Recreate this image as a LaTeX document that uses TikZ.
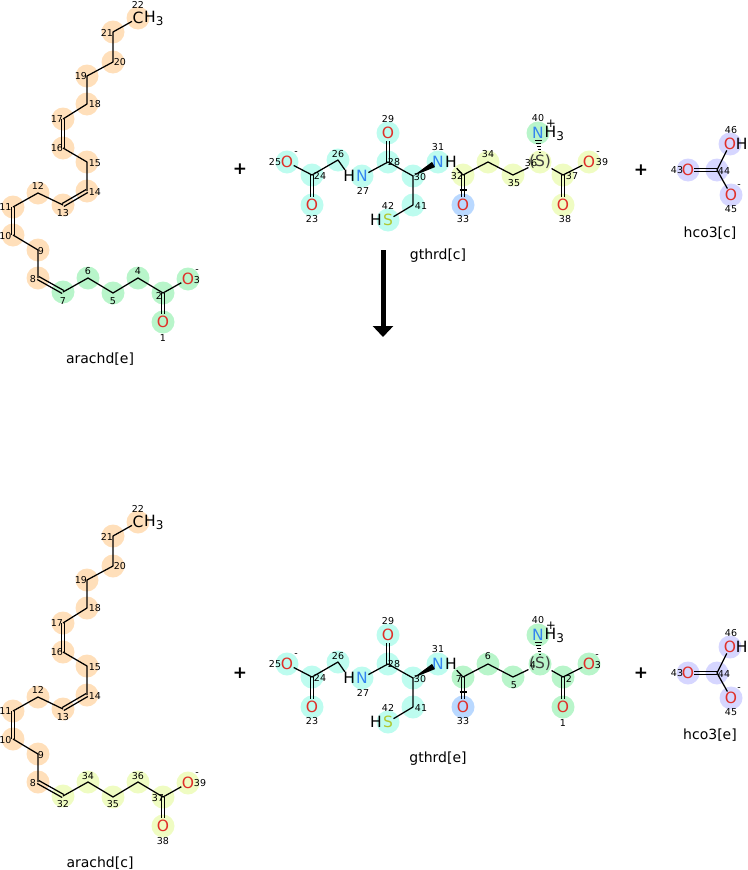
\documentclass[tikz,border=0pt]{standalone}
\usepackage{fontspec}
\setmainfont{DejaVu Sans}
\usetikzlibrary{calc,arrows.meta,backgrounds}

\definecolor{peach}{HTML}{FFDFBA}
\definecolor{mint}{HTML}{B8F5CA}
\definecolor{aqua}{HTML}{BDFCEF}
\definecolor{lemon}{HTML}{EFFCC2}
\definecolor{sky}{HTML}{B9D8FF}
\definecolor{lilac}{HTML}{D6D6FF}
\definecolor{oxred}{HTML}{E0302A}
\definecolor{nblue}{HTML}{3485F0}
\definecolor{sgreen}{HTML}{B0C830}

\newcommand{\dbond}[3][]{%
  \draw[bond,#1] ($(#2)!1.7pt!90:(#3)$) -- ($(#3)!1.7pt!-90:(#2)$);
  \draw[bond,#1] ($(#2)!1.7pt!-90:(#3)$) -- ($(#3)!1.7pt!90:(#2)$);}
\newcommand{\hthree}{H\raisebox{-3pt}{\fontsize{12}{12}\selectfont 3}}

\tikzset{
  bond/.style={line width=1.25pt, line join=round},
  atom/.style={inner sep=0.4pt, font=\fontsize{15.5}{15.5}\selectfont},
  oxy/.style={atom, text=oxred},
  nit/.style={atom, text=nblue},
  sul/.style={atom, text=sgreen},
  idx/.style={inner sep=0pt, font=\fontsize{9.5}{9.5}\selectfont},
  molname/.style={font=\fontsize{14}{14}\selectfont},
  plus/.style={font=\fontsize{17}{17}\selectfont\bfseries}
}

\begin{document}
\begin{tikzpicture}[x=1pt,y=-1pt]
\useasboundingbox (0,0) rectangle (747,870);

% arachd[e]
\node[atom] (ae22) at (138,18) {C};
\node[atom, anchor=west, inner sep=0pt] (ae22h) at (ae22.east) {\hthree};
\coordinate (ae21) at (113,32);
\coordinate (ae20) at (113,62);
\coordinate (ae19) at (87,76);
\coordinate (ae18) at (87,104);
\coordinate (ae17) at (63,119);
\coordinate (ae16) at (63,148);
\coordinate (ae15) at (87,162);
\coordinate (ae14) at (87,191);
\coordinate (ae13) at (63,205);
\coordinate (ae12) at (38,193);
\coordinate (ae11) at (13,207);
\coordinate (ae10) at (13,235);
\coordinate (ae9) at (38,250);
\coordinate (ae8) at (38,278);
\coordinate (ae7) at (63,292);
\coordinate (ae6) at (88,278);
\coordinate (ae5) at (113,293);
\coordinate (ae4) at (138,278);
\coordinate (ae2) at (163,293);
\node[oxy] (ae3) at (188,279) {O};
\node[oxy] (ae1) at (163,322) {O};
\draw[bond] (ae22) -- (ae21) -- (ae20) -- (ae19) -- (ae18) -- (ae17);
\dbond{ae17}{ae16}
\draw[bond] (ae16) -- (ae15) -- (ae14);
\dbond{ae14}{ae13}
\draw[bond] (ae13) -- (ae12) -- (ae11);
\dbond{ae11}{ae10}
\draw[bond] (ae10) -- (ae9) -- (ae8);
\dbond{ae8}{ae7}
\draw[bond] (ae7) -- (ae6) -- (ae5) -- (ae4) -- (ae2) -- (ae3);
\dbond[shorten >=8pt]{ae2}{ae1}
\node[idx] (lae22) at (138,5) {22};
\node[idx] (lae21) at (107,33) {21};
\node[idx] (lae20) at (120,62) {20};
\node[idx] (lae19) at (81,76) {19};
\node[idx] (lae18) at (95,104) {18};
\node[idx] (lae17) at (57,119) {17};
\node[idx] (lae16) at (57,148) {16};
\node[idx] (lae15) at (95,163) {15};
\node[idx] (lae14) at (95,192) {14};
\node[idx] (lae13) at (63,213) {13};
\node[idx] (lae12) at (38,186) {12};
\node[idx] (lae11) at (5.5,207) {11};
\node[idx] (lae10) at (5.5,236) {10};
\node[idx] (lae9) at (41,251) {9};
\node[idx] (lae8) at (33,279) {8};
\node[idx] (lae7) at (63,301) {7};
\node[idx] (lae6) at (88,271) {6};
\node[idx] (lae5) at (113,301) {5};
\node[idx] (lae4) at (138,271) {4};
\node[idx] (lae2) at (159,296) {2};
\node[idx] (lae3) at (197,280) {3};
\node[idx] (qae3) at (197,271) {-};
\node[idx] (lae1) at (163,338) {1};
\node[molname] (nae) at (100,359) {arachd[e]};

\node[plus] (p1) at (240,169) {+};

% gthrd[c]
\node[oxy] (gc25) at (287,162) {O};
\coordinate (gc24) at (312,175);
\node[oxy] (gc23) at (312,205) {O};
\coordinate (gc26) at (338,160);
\node[nit] (gc27) at (362,176) {N};
\node[atom, anchor=east] (gc27h) at (gc27.west) {H};
\coordinate (gc28) at (388,162);
\node[oxy] (gc29) at (388,133) {O};
\coordinate (gc30) at (413,176);
\node[nit] (gc31) at (438,162) {N};
\node[atom, anchor=west] (gc31h) at (gc31.east) {H};
\coordinate (gc41) at (413,205);
\node[sul] (gc42) at (388,220) {S};
\node[atom, anchor=east] (gc42h) at (gc42.west) {H};
\coordinate (gc32) at (463,175);
\node[oxy] (gc33) at (463,205) {O};
\coordinate (gc34) at (488,162);
\coordinate (gc35) at (513,175);
\node[atom, text=black!75] (gc36) at (540,162) {(S)};
\node[nit] (gc40) at (538,133) {N};
\node[atom, anchor=west, inner sep=0pt] (gc40h) at (gc40.east) {\hthree};
\coordinate (gc37) at (563,175);
\node[oxy] (gc38) at (563,205) {O};
\node[oxy] (gc39) at (589,162) {O};
\draw[bond] (gc25) -- (gc24) -- (gc26) -- (gc27h);
\dbond[shorten >=8pt]{gc24}{gc23}
\draw[bond] (gc27) -- (gc28) -- (gc30) -- (gc41) -- (gc42);
\dbond[shorten >=8pt]{gc28}{gc29}
\coordinate (wc31) at ($(gc30)!0.82!(gc31)$);
\fill (gc30) -- ($(wc31)!3pt!90:(gc30)$) -- ($(wc31)!3pt!-90:(gc30)$) -- cycle;
\draw[bond] (gc31h) -- (gc32) -- (gc34) -- (gc35) -- (gc36);
\draw[bond] (gc36) -- (gc37) -- (gc39);
\dbond[shorten >=8pt]{gc32}{gc33}
\draw[bond] ($(gc32)!0.5!(gc33)$) +(-3.5,0) -- +(3.5,0);
\dbond[shorten >=8pt]{gc37}{gc38}
\foreach \k in {0,...,4}
  \draw[line width=1pt] ($(gc36.north)!{0.1+0.2*\k}!(gc40.south)$) +({-1-0.6*\k},0) -- +({1+0.6*\k},0);
\node[idx] (lgc25) at (275,162) {25};
\node[idx] (qgc25) at (296,153) {-};
\node[idx] (lgc24) at (320,176) {24};
\node[idx] (lgc23) at (312,219) {23};
\node[idx] (lgc26) at (338,154) {26};
\node[idx] (lgc27) at (363,191) {27};
\node[idx] (lgc28) at (394,162) {28};
\node[idx] (lgc29) at (388,119) {29};
\node[idx] (lgc30) at (420,177) {30};
\node[idx] (lgc31) at (438,147) {31};
\node[idx] (lgc41) at (421,206) {41};
\node[idx] (lgc42) at (388,206) {42};
\node[idx] (lgc32) at (457,176) {32};
\node[idx] (lgc33) at (463,219) {33};
\node[idx] (lgc34) at (488,154) {34};
\node[idx] (lgc35) at (514,183) {35};
\node[idx] (lgc36) at (531,163) {36};
\node[idx] (lgc37) at (572,176) {37};
\node[idx] (lgc38) at (565,219) {38};
\node[idx] (lgc39) at (602,162) {39};
\node[idx] (qgc39) at (598,153) {-};
\node[idx] (lgc40) at (538,118) {40};
\node[idx, font=\fontsize{12}{12}\selectfont] (qgc40) at (551,124) {+};
\node[molname] (ngc) at (438,256) {gthrd[c]};

\node[plus] (p2) at (641,170) {+};

% hco3[c]
\node[oxy] (hc43) at (688,170) {O};
\coordinate (hc44) at (717,170);
\node[oxy] (hc46) at (730,144) {O};
\node[atom, anchor=west, xshift=-1.5pt] (hc46h) at (hc46.east) {H};
\node[oxy] (hc45) at (731,195) {O};
\dbond[shorten >=6pt]{hc44}{hc43}
\draw[bond] (hc44) -- (hc46);
\draw[bond] (hc44) -- (hc45);
\node[idx] (lhc43) at (677,170) {43};
\node[idx] (lhc44) at (724,171) {44};
\node[idx] (lhc46) at (731,130) {46};
\node[idx] (lhc45) at (731,209) {45};
\node[idx] (qhc45) at (739,186) {-};
\node[molname] (nhc) at (710,233) {hco3[c]};

% reaction arrow
\coordinate (arrtop) at (383,250);
\coordinate (arrbot) at (383,337);
\draw[line width=5pt, -{Triangle[width=20pt,length=11pt]}] (arrtop) -- (arrbot);

% arachd[c]
\begin{scope}[yshift=-504pt]
\node[atom] (ac22) at (138,18) {C};
\node[atom, anchor=west, inner sep=0pt] (ac22h) at (ac22.east) {\hthree};
\coordinate (ac21) at (113,32);
\coordinate (ac20) at (113,62);
\coordinate (ac19) at (87,76);
\coordinate (ac18) at (87,104);
\coordinate (ac17) at (63,119);
\coordinate (ac16) at (63,148);
\coordinate (ac15) at (87,162);
\coordinate (ac14) at (87,191);
\coordinate (ac13) at (63,205);
\coordinate (ac12) at (38,193);
\coordinate (ac11) at (13,207);
\coordinate (ac10) at (13,235);
\coordinate (ac9) at (38,250);
\coordinate (ac8) at (38,278);
\coordinate (ac32) at (63,292);
\coordinate (ac34) at (88,278);
\coordinate (ac35) at (113,293);
\coordinate (ac36) at (138,278);
\coordinate (ac37) at (163,293);
\node[oxy] (ac39) at (188,279) {O};
\node[oxy] (ac38) at (163,322) {O};
\draw[bond] (ac22) -- (ac21) -- (ac20) -- (ac19) -- (ac18) -- (ac17);
\dbond{ac17}{ac16}
\draw[bond] (ac16) -- (ac15) -- (ac14);
\dbond{ac14}{ac13}
\draw[bond] (ac13) -- (ac12) -- (ac11);
\dbond{ac11}{ac10}
\draw[bond] (ac10) -- (ac9) -- (ac8);
\dbond{ac8}{ac32}
\draw[bond] (ac32) -- (ac34) -- (ac35) -- (ac36) -- (ac37) -- (ac39);
\dbond[shorten >=8pt]{ac37}{ac38}
\node[idx] (lac22) at (138,5) {22};
\node[idx] (lac21) at (107,33) {21};
\node[idx] (lac20) at (120,62) {20};
\node[idx] (lac19) at (81,76) {19};
\node[idx] (lac18) at (95,104) {18};
\node[idx] (lac17) at (57,119) {17};
\node[idx] (lac16) at (57,148) {16};
\node[idx] (lac15) at (95,163) {15};
\node[idx] (lac14) at (95,192) {14};
\node[idx] (lac13) at (63,213) {13};
\node[idx] (lac12) at (38,186) {12};
\node[idx] (lac11) at (5.5,207) {11};
\node[idx] (lac10) at (5.5,236) {10};
\node[idx] (lac9) at (41,251) {9};
\node[idx] (lac8) at (33,279) {8};
\node[idx] (lac32) at (63,300) {32};
\node[idx] (lac34) at (88,272) {34};
\node[idx] (lac35) at (113,300) {35};
\node[idx] (lac36) at (138,272) {36};
\node[idx] (lac37) at (158,294) {37};
\node[idx] (lac39) at (200,279) {39};
\node[idx] (qac39) at (197,270) {-};
\node[idx] (lac38) at (163,337) {38};
\node[molname] (nac) at (100,359) {arachd[c]};
\end{scope}

\node[plus] (p3) at (240,673) {+};

% gthrd[e]
\begin{scope}[yshift=-502pt]
\node[oxy] (ge25) at (287,162) {O};
\coordinate (ge24) at (312,175);
\node[oxy] (ge23) at (312,205) {O};
\coordinate (ge26) at (338,160);
\node[nit] (ge27) at (362,176) {N};
\node[atom, anchor=east] (ge27h) at (ge27.west) {H};
\coordinate (ge28) at (388,162);
\node[oxy] (ge29) at (388,133) {O};
\coordinate (ge30) at (413,176);
\node[nit] (ge31) at (438,162) {N};
\node[atom, anchor=west] (ge31h) at (ge31.east) {H};
\coordinate (ge41) at (413,205);
\node[sul] (ge42) at (388,220) {S};
\node[atom, anchor=east] (ge42h) at (ge42.west) {H};
\coordinate (ge7) at (463,175);
\node[oxy] (ge33) at (463,205) {O};
\coordinate (ge6) at (488,162);
\coordinate (ge5) at (513,175);
\node[atom, text=black!75] (ge4) at (540,162) {(S)};
\node[nit] (ge40) at (538,133) {N};
\node[atom, anchor=west, inner sep=0pt] (ge40h) at (ge40.east) {\hthree};
\coordinate (ge2) at (563,175);
\node[oxy] (ge1) at (563,205) {O};
\node[oxy] (ge3) at (589,162) {O};
\draw[bond] (ge25) -- (ge24) -- (ge26) -- (ge27h);
\dbond[shorten >=8pt]{ge24}{ge23}
\draw[bond] (ge27) -- (ge28) -- (ge30) -- (ge41) -- (ge42);
\dbond[shorten >=8pt]{ge28}{ge29}
\coordinate (we31) at ($(ge30)!0.82!(ge31)$);
\fill (ge30) -- ($(we31)!3pt!90:(ge30)$) -- ($(we31)!3pt!-90:(ge30)$) -- cycle;
\draw[bond] (ge31h) -- (ge7) -- (ge6) -- (ge5) -- (ge4);
\draw[bond] (ge4) -- (ge2) -- (ge3);
\dbond[shorten >=8pt]{ge7}{ge33}
\draw[bond] ($(ge7)!0.5!(ge33)$) +(-3.5,0) -- +(3.5,0);
\dbond[shorten >=8pt]{ge2}{ge1}
\foreach \k in {0,...,4}
  \draw[line width=1pt] ($(ge4.north)!{0.1+0.2*\k}!(ge40.south)$) +({-1-0.6*\k},0) -- +({1+0.6*\k},0);
\node[idx] (lge25) at (275,162) {25};
\node[idx] (qge25) at (296,153) {-};
\node[idx] (lge24) at (320,176) {24};
\node[idx] (lge23) at (312,219) {23};
\node[idx] (lge26) at (338,154) {26};
\node[idx] (lge27) at (363,191) {27};
\node[idx] (lge28) at (394,162) {28};
\node[idx] (lge29) at (388,119) {29};
\node[idx] (lge30) at (420,177) {30};
\node[idx] (lge31) at (438,147) {31};
\node[idx] (lge41) at (421,206) {41};
\node[idx] (lge42) at (388,206) {42};
\node[idx] (lge7) at (459,177) {7};
\node[idx] (lge33) at (463,219) {33};
\node[idx] (lge6) at (488,154) {6};
\node[idx] (lge5) at (514,183) {5};
\node[idx] (lge4) at (533,163) {4};
\node[idx] (lge2) at (569,177) {2};
\node[idx] (lge1) at (563,221) {1};
\node[idx] (lge3) at (598,163) {3};
\node[idx] (qge3) at (597,154) {-};
\node[idx] (lge40) at (538,118) {40};
\node[idx, font=\fontsize{12}{12}\selectfont] (qge40) at (551,124) {+};
\node[molname] (nge) at (438,257) {gthrd[e]};
\end{scope}

\node[plus] (p4) at (641,673) {+};

% hco3[e]
\begin{scope}[yshift=-503pt]
\node[oxy] (he43) at (688,170) {O};
\coordinate (he44) at (717,170);
\node[oxy] (he46) at (730,144) {O};
\node[atom, anchor=west, xshift=-1.5pt] (he46h) at (he46.east) {H};
\node[oxy] (he45) at (731,195) {O};
\dbond[shorten >=6pt]{he44}{he43}
\draw[bond] (he44) -- (he46);
\draw[bond] (he44) -- (he45);
\node[idx] (lhe43) at (677,170) {43};
\node[idx] (lhe44) at (724,171) {44};
\node[idx] (lhe46) at (731,130) {46};
\node[idx] (lhe45) at (731,209) {45};
\node[idx] (qhe45) at (739,186) {-};
\node[molname] (nhe) at (710,232) {hco3[e]};
\end{scope}

% highlight discs
\begin{pgfonlayer}{background}
\foreach \n in {ae22,ae21,ae20,ae19,ae18,ae17,ae16,ae15,ae14,ae13,ae12,ae11,ae10,ae9,ae8,
                ac22,ac21,ac20,ac19,ac18,ac17,ac16,ac15,ac14,ac13,ac12,ac11,ac10,ac9,ac8}
  \fill[peach] (\n) circle (11.5pt);
\foreach \n in {ae7,ae6,ae5,ae4,ae2,ae3,ae1,gc40,ge7,ge6,ge5,ge4,ge2,ge1,ge3,ge40}
  \fill[mint] (\n) circle (11.5pt);
\foreach \n in {gc25,gc24,gc23,gc26,gc27,gc28,gc29,gc30,gc31,gc41,gc42,
                ge25,ge24,ge23,ge26,ge27,ge28,ge29,ge30,ge31,ge41,ge42}
  \fill[aqua] (\n) circle (11.5pt);
\foreach \n in {gc32,gc34,gc35,gc36,gc37,gc38,gc39,ac32,ac34,ac35,ac36,ac37,ac39,ac38}
  \fill[lemon] (\n) circle (11.5pt);
\foreach \n in {gc33,ge33}
  \fill[sky] (\n) circle (11.5pt);
\foreach \n in {hc43,hc44,hc46,hc45,he43,he44,he46,he45}
  \fill[lilac] (\n) circle (11.5pt);
\end{pgfonlayer}
\end{tikzpicture}
\end{document}
